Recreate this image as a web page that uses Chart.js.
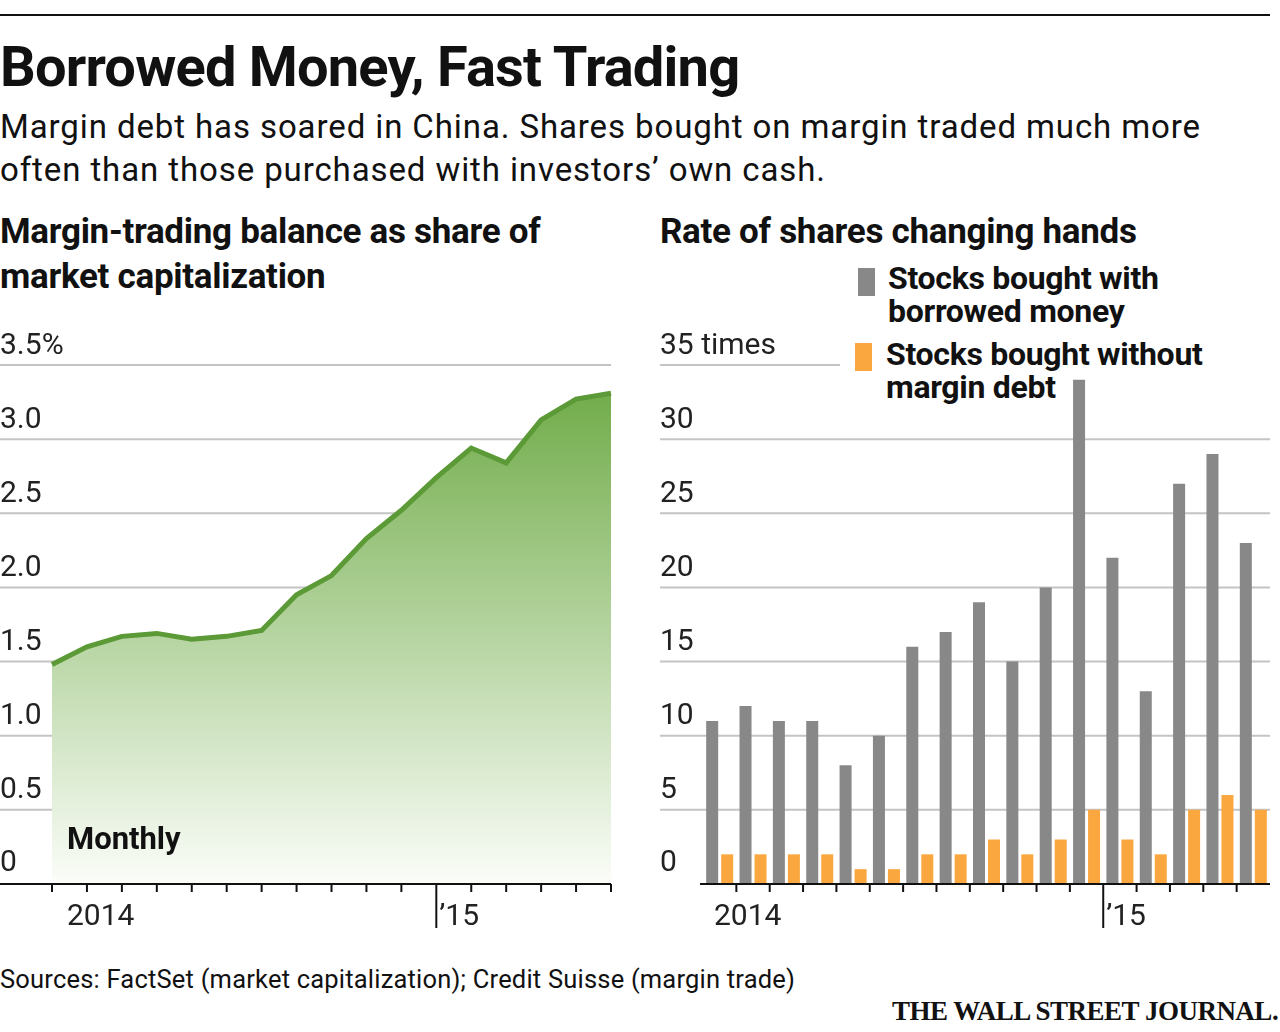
<!DOCTYPE html>
<html>
<head>
<meta charset="utf-8">
<script src="https://cdn.jsdelivr.net/npm/chart.js@4"></script>
<style>
  body { margin: 0; width: 1280px; height: 1032px; background: #fff; position: relative; overflow: hidden; font-family: Roboto, sans-serif; color: #111; }
  .t { position: absolute; white-space: nowrap; }
  #rule { position: absolute; left: 0; top: 14px; width: 1270px; height: 2px; background: #111; }
  #title { left: 0; top: 34px; font-size: 56px; font-weight: 700; letter-spacing: -0.8px; }
  .sub { left: 0; font-size: 33px; letter-spacing: 0.9px; }
  .head { font-size: 35px; font-weight: 700; letter-spacing: -0.3px; }
  .leg { font-size: 32px; font-weight: 700; letter-spacing: -0.3px; line-height: 33px; }
  .sw { position: absolute; width: 17px; height: 28px; }
  canvas { position: absolute; }
</style>
</head>
<body>
<div id="rule"></div>
<div class="t" id="title">Borrowed Money, Fast Trading</div>
<div class="t sub" style="top:107px">Margin debt has soared in China. Shares bought on margin traded much more</div>
<div class="t sub" style="top:150px">often than those purchased with investors’ own cash.</div>
<div class="t head" style="left:0;top:211px">Margin-trading balance as share of</div>
<div class="t head" style="left:0;top:256px">market capitalization</div>
<div class="t head" style="left:660px;top:211px">Rate of shares changing hands</div>
<div class="sw" style="left:858px;top:268px;background:#888"></div>
<div class="t leg" style="left:888px;top:262px">Stocks bought with<br>borrowed money</div>
<div class="sw" style="left:855px;top:343px;background:#f9a73e"></div>
<div class="t leg" style="left:886px;top:338px">Stocks bought without<br>margin debt</div>
<div class="t" style="left:0;top:964px;font-size:25.5px;letter-spacing:0.2px">Sources: FactSet (market capitalization); Credit Suisse (margin trade)</div>
<div class="t" style="left:892px;top:996px;font-size:27px;font-weight:700;font-family:'Liberation Serif',serif;letter-spacing:-0.5px">THE WALL STREET JOURNAL.</div>

<canvas id="left" style="left:0;top:330px" width="640" height="620"></canvas>
<canvas id="right" style="left:640px;top:330px" width="640" height="620"></canvas>

<script>
const months = ['Feb','Mar','Apr','May','Jun','Jul','Aug','Sep','Oct','Nov','Dec','Jan','Feb','Mar','Apr','May','Jun'];
const marginShare = [1.48, 1.60, 1.67, 1.69, 1.65, 1.67, 1.71, 1.95, 2.08, 2.33, 2.52, 2.74, 2.94, 2.84, 3.13, 3.27, 3.31];
const leftTicks = ['0', '0.5', '1.0', '1.5', '2.0', '2.5', '3.0', '3.5%'];

const barMonths = ['Jan','Feb','Mar','Apr','May','Jun','Jul','Aug','Sep','Oct','Nov','Dec','Jan','Feb','Mar','Apr','May'];
const borrowed = [11, 12, 11, 11, 8, 10, 16, 17, 19, 15, 20, 34, 22, 13, 27, 29, 23];
const ownCash = [2, 2, 2, 2, 1, 1, 2, 2, 3, 2, 3, 5, 3, 2, 5, 6, 5];
const rightTicks = ['0', '5', '10', '15', '20', '25', '30', '35 times'];

const TOP = 35, BOTTOM = 66; // chart area spans page y 365..884

// grid, labels and axis ticks drawn through the chart's scales
function axisPlugin(opts) {
  return {
    id: 'axis' + opts.id,
    beforeDatasetsDraw(chart) {
      const { ctx, scales: { y } } = chart;
      ctx.save();
      opts.ticks.forEach((lab, i) => {
        const py = y.getPixelForValue(i * opts.step);
        let x1 = opts.gridRight;
        if (i === opts.ticks.length - 1 && opts.topRight) x1 = opts.topRight;
        if (i > 0) {
          ctx.strokeStyle = '#c4c4c4'; ctx.lineWidth = 2;
          ctx.beginPath(); ctx.moveTo(opts.gridLeft, py); ctx.lineTo(x1, py); ctx.stroke();
        }
        ctx.fillStyle = '#222'; ctx.font = '30px Roboto'; ctx.textBaseline = 'bottom';
        ctx.fillText(lab, opts.labelX, py - 4 + (i === 0 ? -2 : 0));
      });
      ctx.restore();
    },
    afterDatasetsDraw(chart) {
      const { ctx, scales: { x, y } } = chart;
      const py = y.getPixelForValue(0);
      ctx.save();
      ctx.strokeStyle = '#111'; ctx.lineWidth = 2;
      ctx.beginPath(); ctx.moveTo(opts.axisLeft, py); ctx.lineTo(opts.axisRight, py); ctx.stroke();
      for (let i = 0; i < opts.nTicks; i++) {
        const px = opts.tickPx(x, i);
        const len = i === opts.yearIdx ? 44 : 8;
        ctx.beginPath(); ctx.moveTo(px, py); ctx.lineTo(px, py + len); ctx.stroke();
      }
      ctx.fillStyle = '#222'; ctx.font = '30px Roboto'; ctx.textBaseline = 'top';
      ctx.fillText('2014', opts.label14X, py + 18);
      ctx.fillText('’15', opts.tickPx(x, opts.yearIdx) + 3, py + 18);
      ctx.restore();
    }
  };
}

// left: area chart
new Chart(document.getElementById('left'), {
  type: 'line',
  data: {
    labels: months,
    datasets: [{
      data: marginShare,
      borderColor: '#5b9a36',
      borderWidth: 5,
      pointRadius: 0,
      tension: 0,
      fill: 'origin',
      backgroundColor: (c) => {
        const a = c.chart.chartArea;
        if (!a) return '#8bbf6a';
        const g = c.chart.ctx.createLinearGradient(0, a.top, 0, a.bottom);
        g.addColorStop(0, '#6aa841');
        g.addColorStop(1, '#fbfdf9');
        return g;
      }
    }]
  },
  options: {
    responsive: false, animation: false,
    layout: { padding: { left: 52, right: 29, top: TOP, bottom: BOTTOM } },
    plugins: { legend: { display: false }, tooltip: { enabled: false } },
    scales: { x: { display: false, offset: false }, y: { display: false, min: 0, max: 3.5 } }
  },
  plugins: [axisPlugin({
    id: 'L', ticks: leftTicks, step: 0.5, gridLeft: 0, gridRight: 611, labelX: 0,
    axisLeft: 0, axisRight: 611, nTicks: 17, yearIdx: 11, label14X: 67,
    tickPx: (x, i) => x.getPixelForValue(i)
  }), {
    id: 'monthly',
    afterDatasetsDraw(chart) {
      const { ctx, scales: { y } } = chart;
      ctx.save(); ctx.fillStyle = '#111'; ctx.font = 'bold 31px Roboto'; ctx.textBaseline = 'middle';
      ctx.fillText('Monthly', 67, y.getPixelForValue(0.29));
      ctx.restore();
    }
  }]
});

// right: grouped bars
new Chart(document.getElementById('right'), {
  type: 'bar',
  data: {
    labels: barMonths,
    datasets: [
      { data: borrowed, backgroundColor: '#888888', categoryPercentage: 0.9, barPercentage: 0.8 },
      { data: ownCash, backgroundColor: '#f9a73e', categoryPercentage: 0.9, barPercentage: 0.8 }
    ]
  },
  options: {
    responsive: false, animation: false,
    layout: { padding: { left: 63, right: 10, top: TOP, bottom: BOTTOM } },
    plugins: { legend: { display: false }, tooltip: { enabled: false } },
    scales: { x: { display: false }, y: { display: false, min: 0, max: 35 } }
  },
  plugins: [axisPlugin({
    id: 'R', ticks: rightTicks, step: 5, gridLeft: 20, gridRight: 630, topRight: 200, labelX: 20,
    axisLeft: 60, axisRight: 630, nTicks: 16, yearIdx: 11, label14X: 74,
    tickPx: (x, i) => (x.getPixelForValue(i) + x.getPixelForValue(i + 1)) / 2
  })]
});
</script>
</body>
</html>
